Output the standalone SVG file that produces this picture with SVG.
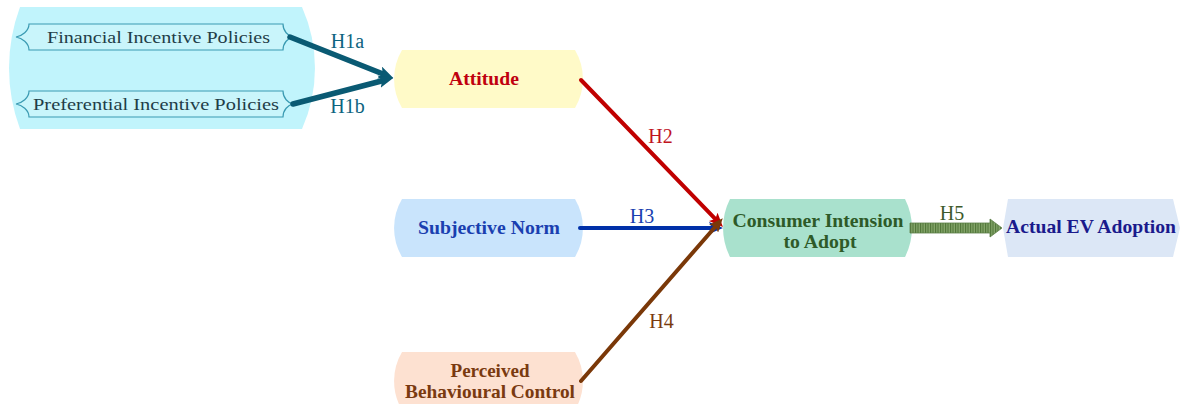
<svg xmlns="http://www.w3.org/2000/svg" width="1181" height="404" viewBox="0 0 1181 404">
  <style>
    text { font-family: "Liberation Serif", "Times New Roman", serif; }
    .nl { font-size: 19px; font-weight: bold; text-anchor: middle; }
    .pl { font-size: 17.5px; text-anchor: middle; fill: #1f3d48; }
    .hl { font-size: 20px; text-anchor: middle; }
    .brace { fill: #c9f5fb; stroke: #3a9ab2; stroke-width: 1.2; }
    .conn { fill: none; stroke-linecap: round; }
  </style>
  <defs>
    <marker id="ahTeal" viewBox="0 0 14 12" refX="6" refY="6" markerWidth="15" markerHeight="13" markerUnits="userSpaceOnUse" orient="auto">
      <path d="M0,0 L14,6 L0,12 L3,6 Z" fill="#0a5a73"/>
    </marker>
    <marker id="ahRed" viewBox="0 0 14 12" refX="6" refY="6" markerWidth="14" markerHeight="12" markerUnits="userSpaceOnUse" orient="auto">
      <path d="M0,0 L14,6 L0,12 L3,6 Z" fill="#c00000"/>
    </marker>
    <marker id="ahBlue" viewBox="0 0 14 12" refX="6" refY="6" markerWidth="14" markerHeight="12" markerUnits="userSpaceOnUse" orient="auto">
      <path d="M0,0 L14,6 L0,12 L3,6 Z" fill="#0030a8"/>
    </marker>
    <marker id="ahBrown" viewBox="0 0 14 12" refX="6" refY="6" markerWidth="14" markerHeight="12" markerUnits="userSpaceOnUse" orient="auto">
      <path d="M0,0 L14,6 L0,12 L3,6 Z" fill="#7a3808"/>
    </marker>
    <pattern id="hatch" width="2.5" height="4" patternUnits="userSpaceOnUse">
      <rect width="2.5" height="4" fill="#86a66c"/>
      <rect width="1.1" height="4" fill="#4e7436"/>
    </pattern>
  </defs>

  <g id="policy-group">
    <path d="M20,7 L302,7 A150,150 0 0 1 302,129 L20,129 A175,175 0 0 1 20,7 Z" fill="#c1f4fc"/>
  </g>

  <g id="financial">
    <path class="brace" d="M29,24 C29,31 22,36 16,37 C22,38 29,43 29,50 L283,50 C283,43 288,38 293,37 C288,36 283,31 283,24 Z"/>
    <text class="pl" x="158.5" y="43" textLength="223" lengthAdjust="spacingAndGlyphs">Financial Incentive Policies</text>
  </g>

  <g id="preferential">
    <path class="brace" d="M29,91 C29,98 22,103 16,104 C22,105 29,110 29,117 L283,117 C283,110 288,105 293,104 C288,103 283,98 283,91 Z"/>
    <text class="pl" x="156" y="110" textLength="246" lengthAdjust="spacingAndGlyphs">Preferential Incentive Policies</text>
  </g>

  <g id="attitude">
    <path d="M402,50 L575,50 A57,57 0 0 1 575,108 L402,108 A57,57 0 0 1 402,50 Z" fill="#fffac8"/>
    <text class="nl" x="484" y="85" fill="#c0000f" textLength="70" lengthAdjust="spacingAndGlyphs">Attitude</text>
  </g>

  <g id="subjective-norm">
    <path d="M402,199 L575,199 A57,57 0 0 1 575,257 L402,257 A57,57 0 0 1 402,199 Z" fill="#c9e4fc"/>
    <text class="nl" x="489" y="234" fill="#1a3fb0" textLength="142" lengthAdjust="spacingAndGlyphs">Subjective Norm</text>
  </g>

  <g id="pbc">
    <path d="M402,352 L575,352 A57,57 0 0 1 575,410 L402,410 A57,57 0 0 1 402,352 Z" fill="#fde1d1"/>
    <text class="nl" x="490" y="377" fill="#7a3a10" textLength="79" lengthAdjust="spacingAndGlyphs">Perceived</text>
    <text class="nl" x="490" y="398" fill="#7a3a10" textLength="170" lengthAdjust="spacingAndGlyphs">Behavioural Control</text>
  </g>

  <g id="intention">
    <path d="M730,199 L905,199 A64,64 0 0 1 905,257 L730,257 A64,64 0 0 1 730,199 Z" fill="#a9e1cd"/>
    <text class="nl" x="818" y="227" fill="#2e5a28" textLength="171" lengthAdjust="spacingAndGlyphs">Consumer Intension</text>
    <text class="nl" x="820" y="248" fill="#2e5a28" textLength="73" lengthAdjust="spacingAndGlyphs">to Adopt</text>
  </g>

  <g id="adoption">
    <path d="M1008,199 L1173,199 L1180,228 L1173,257 L1008,257 L1003,228 Z" fill="#dce7f6"/>
    <text class="nl" x="1091" y="233" fill="#1a1a8c" textLength="170" lengthAdjust="spacingAndGlyphs">Actual EV Adoption</text>
  </g>

  <g id="connectors">
    <line class="conn" x1="290" y1="37" x2="385.6" y2="75" stroke="#0a5a73" stroke-width="5.5" marker-end="url(#ahTeal)"/>
    <line class="conn" x1="293" y1="104" x2="385.3" y2="80" stroke="#0a5a73" stroke-width="5.5" marker-end="url(#ahTeal)"/>
    <line class="conn" x1="581" y1="80" x2="717.4" y2="221.2" stroke="#c00000" stroke-width="4" marker-end="url(#ahRed)"/>
    <line class="conn" x1="580" y1="228" x2="715" y2="228" stroke="#0030a8" stroke-width="4" marker-end="url(#ahBlue)"/>
    <line class="conn" x1="581" y1="381" x2="717.5" y2="224.2" stroke="#7a3808" stroke-width="4" marker-end="url(#ahBrown)"/>
    <path d="M910,223 L990,223 L990,219 L1002,228 L990,237 L990,233 L910,233 Z" fill="url(#hatch)" stroke="#5c7e46" stroke-width="0.8"/>
    <text class="hl" x="347.5" y="48" fill="#0d6480">H1a</text>
    <text class="hl" x="347.5" y="113" fill="#0d6480">H1b</text>
    <text class="hl" x="660.5" y="143" fill="#c0141e">H2</text>
    <text class="hl" x="642" y="223" fill="#1a3fb0">H3</text>
    <text class="hl" x="661.5" y="328" fill="#7a3a10">H4</text>
    <text class="hl" x="952" y="220" fill="#3d5a2a">H5</text>
  </g>
</svg>
